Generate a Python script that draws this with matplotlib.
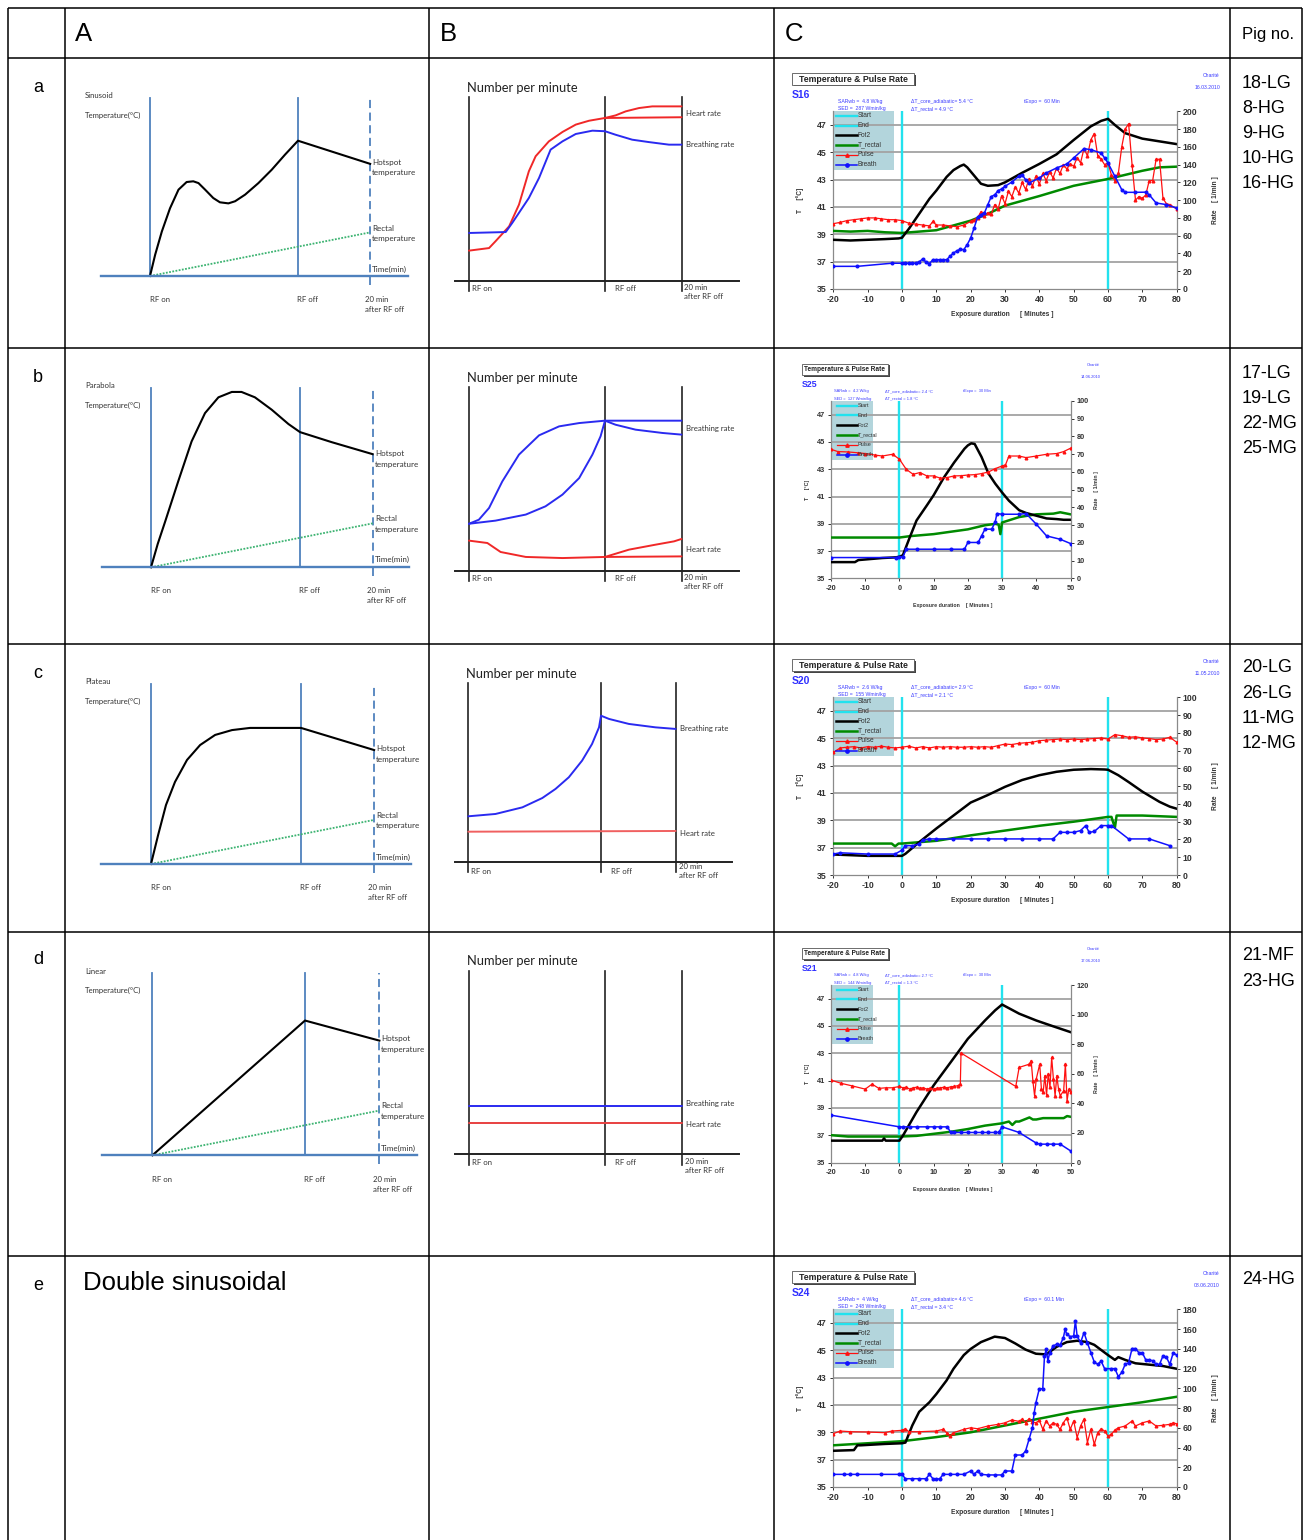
import matplotlib
matplotlib.use("Agg")
import matplotlib.pyplot as plt
from matplotlib.patches import Rectangle

plt.rcParams['font.family'] = ['Liberation Sans', 'DejaVu Sans']
plt.rcParams['axes.unicode_minus'] = False

# ======================= DATA =======================
ROW_LETTERS = ['a', 'b', 'c', 'd', 'e']
COL_HEADERS = ['A', 'B', 'C']
PIGS = [['18-LG', '8-HG', '9-HG', '10-HG', '16-HG'],
        ['17-LG', '19-LG', '22-MG', '25-MG'],
        ['20-LG', '26-LG', '11-MG', '12-MG'],
        ['21-MF', '23-HG'],
        ['24-HG']]
A_NAMES = ['Sinusoid', 'Parabola', 'Plateau', 'Linear']

# Column A schematics: t in min (0 = RF on, 40 = RF off), T in relative units
A_EVENTS = [0, 40, 59.5]
A_SIN_T = [0, 1.4, 3.2, 5.4, 7.7, 9.9, 11.7, 13.1, 14.9, 17.1, 18.9, 21.2, 23.0, 25.7, 29.3, 32.9, 36.5, 40, 59.5]
A_SIN_V = [0, 12, 25, 38, 48.5, 52.8, 53.2, 52.2, 48.5, 43.8, 41.4, 40.8, 42, 45.7, 52.2, 59.7, 68.2, 76, 63]
A_PAR_T = [0, 1.8, 3.8, 7.3, 10.9, 14.5, 18.1, 21.7, 24.3, 27.9, 32.4, 36.9, 40, 48.5, 59.5]
A_PAR_V = [0, 13, 25.5, 47.9, 70.2, 86, 94.8, 97.8, 97.8, 94.8, 87.9, 79.9, 75.4, 69.8, 63.1]
A_PLA_T = [0, 1.9, 4, 6.4, 9.6, 13.1, 17.1, 21.6, 26.4, 40, 59.5]
A_PLA_V = [0, 16.1, 32.8, 45.6, 57.8, 66.1, 71.7, 74.4, 75.6, 75.6, 63.3]
A_LIN_T = [0, 40, 59.5]
A_LIN_V = [0, 73.8, 62.8]
A_RECTAL_T = [0, 59.5]
A_RECTAL_V = [0, 24.5]

# Column B schematics: t in min (0 = RF on, 40 = RF off), rate in relative units
B_EVENTS = [0, 40, 62.5]
B_A_HR1_T = [0, 5.9, 7.8, 11.8, 14.7, 17.6, 19.6, 23.5, 27.5, 31.4, 35.3, 40, 62.5]
B_A_HR1_V = [16.5, 17.9, 21.6, 29.7, 41.5, 59.6, 67.8, 75.9, 81, 85, 87.1, 88.6, 89]
B_A_HR2_T = [40, 43.1, 46.1, 50, 53.9, 62.5]
B_A_HR2_V = [88.6, 90, 92.2, 94, 94.9, 94.9]
B_A_BR_T = [0, 10.8, 12.7, 17.6, 20.6, 24, 27.5, 31.4, 36.3, 40, 43.1, 48, 52.9, 58.8, 62.5]
B_A_BR_V = [26.1, 26.6, 31.5, 45.1, 56, 71.4, 75.9, 79.9, 81.7, 81.4, 79.5, 76.8, 75.5, 74.1, 74.1]

B_B_BR1_T = [0, 2.9, 5.9, 9.8, 14.7, 20.6, 26.5, 32.4, 40, 62.5]
B_B_BR1_V = [25.6, 27.8, 34.2, 48.7, 63.3, 73.8, 78.7, 80.5, 81.8, 81.8]
B_B_BR2_T = [40, 43.1, 49, 56.9, 62.5]
B_B_BR2_V = [81.8, 79.6, 76.9, 75.1, 74.2]
B_B_BR3_T = [0, 7.8, 16.7, 22.5, 27.5, 32.4, 36.3, 38.7, 40]
B_B_BR3_V = [25.6, 27.3, 30.6, 35.1, 41.5, 50.5, 63.3, 73.3, 81.8]
B_B_HR1_T = [0, 5.4, 9.3, 16.7, 27.5, 40, 62.5]
B_B_HR1_V = [16.4, 15.1, 10.2, 7.5, 6.9, 7.5, 7.8]
B_B_HR2_T = [40, 47.1, 54.9, 60.3, 62.5]
B_B_HR2_V = [7.5, 11.5, 14.2, 16, 17.3]

B_C_BR_T = [0, 8.2, 16.3, 22.3, 26.3, 30.3, 34.3, 37.3, 39.4, 40, 42.4, 48.4, 56.4, 62.5]
B_C_BR_V = [25.7, 27, 30.7, 35.9, 41, 47.5, 56.8, 66.1, 75.4, 81.9, 80.1, 77.3, 75.4, 74.5]
B_C_HR_T = [0, 62.5]
B_C_HR_V = [17.1, 17.5]

B_D_BR_T = [0, 62.5]
B_D_BR_V = [26.1, 26.1]
B_D_HR_T = [0, 62.5]
B_D_HR_V = [16.6, 16.6]

# Column C recordings (t in min, Fot2/T_rectal in degC, Pulse/Breath in 1/min)
S16_FOT_T = [-20, -15, -10, -5, -1, 0, 2, 5, 8, 10, 13, 15, 17, 18, 19, 21, 23, 25, 28, 30, 35, 40, 45, 50, 55, 58, 60, 62, 65, 70, 75, 80]
S16_FOT_V = [38.6, 38.55, 38.6, 38.65, 38.7, 38.75, 39.4, 40.5, 41.6, 42.2, 43.2, 43.7, 44.0, 44.1, 43.9, 43.3, 42.7, 42.55, 42.6, 42.8, 43.5, 44.15, 44.85, 45.9, 46.9, 47.3, 47.45, 47.0, 46.4, 46.0, 45.8, 45.6]
S16_REC_T = [-20, -15, -10, -5, 0, 10, 20, 25, 30, 40, 50, 60, 70, 75, 80]
S16_REC_V = [39.25, 39.2, 39.25, 39.15, 39.1, 39.3, 40.0, 40.5, 41.1, 41.8, 42.55, 43.05, 43.65, 43.9, 43.95]
S16_PUL_T = [-20, -18, -16, -14, -12, -10, -8, -6, -4, -2, 0, 2, 4, 6, 8, 9, 10, 12, 14, 16, 18, 20,
             21, 22, 23, 24, 25, 26, 27, 28, 29, 30, 31, 32, 33, 34, 35, 36, 37, 38, 39, 40,
             41, 42, 43, 44, 45, 46, 47, 48, 49, 50, 51, 52, 53, 54, 55, 56, 57, 58, 59, 60,
             61, 62, 63, 64, 65, 66, 67, 68, 69, 70, 71, 72, 73, 74, 75, 76, 77, 78, 80]
S16_PUL_V = [73.5, 75, 77, 78, 79, 80, 80, 79, 78, 78, 77, 74, 73, 72, 71, 76, 72, 72, 71, 70, 72, 76,
             78, 80, 87, 82, 86, 84, 95, 90, 105, 96, 110, 104, 115, 108, 120, 112, 124, 116, 127, 118,
             130, 122, 132, 125, 136, 130, 140, 135, 141, 138, 148, 142, 158, 150, 168, 175, 150, 146, 140, 142,
             128, 122, 130, 160, 180, 186, 140, 100, 104, 102, 106, 122, 122, 146, 146, 102, 96, 95, 90]
S16_BR_T = [-20, -13, -3, 0, 1, 2, 3, 4, 5, 6, 7, 8, 9, 10, 11, 12, 13, 14, 15, 16, 17, 18, 19, 20, 21, 22, 23, 24, 25, 26, 27, 28, 29, 30, 32, 34, 35, 36, 37, 40, 42, 45, 48, 50, 53, 55, 58, 59, 60, 62, 64, 65, 68, 71, 72, 74, 77, 80]
S16_BR_V = [25.5, 25.5, 29, 29, 29, 29, 29, 29, 30.4, 33.8, 30.4, 28.5, 33, 33, 33, 33, 33, 36.8, 40.5, 43, 44.6, 44.3, 50, 57.4, 68.7, 80.7, 83.7, 85.5, 95, 104, 106, 110.7, 112.6, 115.6, 120.4, 126.8, 128.7, 123, 119.3, 125, 130.6, 136.2, 140.7, 147.5, 158, 156.8, 153, 147.5, 141.8, 126.8, 111.8, 108.8, 108.8, 109, 106, 96.8, 95, 91]

S25_FOT_T = [-20, -13, -12, -5, -1, 0, 1, 3, 5, 8, 10, 13, 16, 19, 20, 21, 22, 24, 26, 28, 30, 32, 35, 37, 40, 43, 46, 48, 50]
S25_FOT_V = [36.2, 36.2, 36.35, 36.5, 36.55, 36.6, 36.7, 38.0, 39.25, 40.35, 41.1, 42.4, 43.5, 44.5, 44.75, 44.9, 44.85, 43.9, 42.7, 41.95, 41.3, 40.7, 40.0, 39.8, 39.6, 39.4, 39.35, 39.3, 39.3]
S25_REC_T = [-20, 0, 3, 10, 20, 25, 28, 29, 29.5, 30, 35, 40, 45, 47, 50]
S25_REC_V = [38.0, 38.0, 38.1, 38.25, 38.6, 38.9, 39.0, 38.95, 38.25, 39.1, 39.5, 39.7, 39.75, 39.85, 39.7]
S25_PUL_T = [-20, -18, -15, -12, -10, -7, -5, -2, 0, 2, 4, 6, 8, 10, 12, 14, 16, 18, 20, 22, 24, 26, 28, 30, 31, 32, 35, 37, 40, 43, 46, 48, 50]
S25_PUL_V = [72.8, 71.5, 71.3, 70.8, 70.4, 69.5, 69, 70, 67.2, 61.5, 58.7, 59.7, 57.8, 57.8, 56.5, 56.9, 57.8, 57.9, 58.3, 58.5, 59.1, 60, 61.9, 63.4, 64, 69, 69, 68.1, 69, 70, 70.4, 71.5, 73.4]
S25_BR_T = [-20, -1, 0, 1, 2, 5, 10, 15, 19, 20, 23, 24, 25, 27, 28, 28.5, 30, 35, 37, 40, 43, 47, 50]
S25_BR_V = [11.8, 11.8, 12.2, 12.2, 16.5, 16.5, 16.5, 16.5, 16.5, 20.3, 20.3, 24, 27.8, 27.8, 32, 36.6, 36.2, 36.2, 36.6, 30.6, 24, 22.1, 19.7]

S20_FOT_T = [-20, -10, 0, 1, 5, 10, 15, 20, 25, 30, 35, 40, 45, 50, 55, 59, 60, 63, 66, 70, 75, 78, 80]
S20_FOT_V = [36.5, 36.4, 36.4, 36.55, 37.4, 38.4, 39.35, 40.3, 40.85, 41.45, 41.95, 42.3, 42.55, 42.7, 42.75, 42.72, 42.7, 42.3, 41.8, 41.1, 40.35, 40.0, 39.85]
S20_REC_T = [-20, -3, -2, -1, 0, 5, 10, 15, 20, 30, 40, 50, 60, 61, 62, 62.5, 70, 80]
S20_REC_V = [37.3, 37.3, 37.1, 37.3, 37.3, 37.4, 37.5, 37.7, 37.9, 38.25, 38.6, 38.9, 39.25, 39.25, 38.45, 39.35, 39.35, 39.25]
S20_PUL_T = [-20, -18, -16, -14, -12, -10, -8, -6, -4, -2, 0, 2, 4, 6, 8, 10, 12, 14, 16, 18, 20, 22, 24, 26, 28,
             30, 32, 34, 36, 38, 40, 42, 44, 46, 48, 50, 52, 54, 56, 58, 60, 62, 64, 66, 68, 70, 72, 74, 76, 78, 80]
S20_PUL_V = [69, 71.5, 71.9, 72.2, 71.5, 72.2, 71.9, 72.5, 71.9, 71.5, 71.9, 72.5, 71.5, 72.2, 71.5, 72.2, 71.9, 72.2, 71.9, 71.9, 72.2, 71.9, 72.2, 71.9, 72.8,
             73.7, 73.4, 74.1, 74.4, 74.7, 75.6, 75.9, 76.2, 76.5, 76.2, 76.5, 76.2, 76.5, 76.8, 77.1, 76.5, 79, 78.4, 77.5, 77.8, 77.1, 76.8, 76.2, 76.5, 77.5, 74.7]
S20_BR_T = [-20, -18, -10, -2, 0, 1, 3, 5, 6, 8, 10, 15, 20, 25, 30, 35, 40, 44, 46, 48, 50, 52, 53.5, 54.5, 56, 58, 60, 61, 66, 72, 78]
S20_BR_V = [11.8, 12.5, 11.8, 11.8, 14, 16.5, 16.5, 17.4, 19.7, 20.3, 20.3, 20.3, 20.3, 20.3, 20.3, 20.3, 20.3, 20.3, 24, 24, 24, 25, 27.8, 24, 24.5, 27.8, 27.8, 27.8, 20.3, 20.3, 16.5]

S21_FOT_T = [-20, -5, -4.5, -4, 0, 1, 5, 10, 15, 20, 25, 28, 30, 35, 40, 45, 50]
S21_FOT_V = [36.6, 36.6, 36.76, 36.6, 36.6, 36.96, 38.7, 40.65, 42.35, 44.06, 45.4, 46.15, 46.57, 45.9, 45.4, 44.97, 44.55]
S21_REC_T = [-20, -15, 0, 5, 10, 15, 20, 25, 30, 32, 33, 34, 35, 37, 38, 39, 40, 42, 45, 48, 49, 50]
S21_REC_V = [37, 36.9, 36.9, 36.95, 37.1, 37.25, 37.45, 37.7, 37.87, 38.0, 37.75, 38.0, 38.0, 38.2, 38.3, 38.15, 38.15, 38.25, 38.25, 38.25, 38.4, 38.35]
S21_PUL_T = [-20, -17, -14, -10, -8, -6, -4, -2, 0, 1, 2, 3, 4, 5, 6, 7, 8, 9, 10, 11, 12, 13, 14, 15, 16, 17, 17.8, 18,
             34, 35, 38, 38.5, 39, 39.5, 40, 41, 41.5, 42, 42.5, 43, 43.5, 44, 44.5, 45, 45.5, 46, 46.5, 47, 48, 48.5, 49, 49.5, 50]
S21_PUL_V = [55.7, 53.5, 51.9, 49.6, 53, 50.1, 50.5, 50.5, 51.4, 50.5, 50.9, 49.6, 50.5, 50.9, 50.2, 50.5, 49.6, 50.2, 49.6, 50.2, 50.5, 50.9, 50.5, 51.2, 51.4, 51.9, 53, 74,
             51.4, 64.3, 66.5, 68.8, 55.3, 45.1, 56.5, 66.5, 49.6, 47.4, 58.7, 45.6, 60, 51, 71, 56.5, 45.1, 58.7, 49.6, 45.1, 48.5, 66.5, 41.7, 49.6, 47.4]
S21_BR_T = [-20, 0, 1, 3, 5, 8, 10, 12, 14, 15, 16, 18, 20, 22, 24, 26, 28, 29, 30, 35, 40, 41, 43, 45, 47, 50]
S21_BR_V = [32, 24.1, 24.1, 24.1, 24.1, 24.1, 24.1, 24.1, 24.1, 20.3, 20.3, 20.3, 20.3, 20.3, 20.3, 20.3, 20.3, 20.3, 24.1, 20.3, 13.1, 12.4, 12.4, 12.4, 12.4, 7.9]

S24_FOT_T = [-20, -14, -13, -12, -5, 0, 1, 3, 5, 8, 10, 13, 15, 18, 20, 23, 27, 30, 33, 36, 39, 42, 45, 48, 51, 54, 56, 60, 62, 63, 65, 68, 72, 76, 80]
S24_FOT_V = [37.65, 37.7, 38.05, 38.05, 38.15, 38.2, 38.25, 39.5, 40.5, 41.2, 41.8, 42.8, 43.65, 44.65, 45.1, 45.6, 46.0, 45.9, 45.5, 45.05, 44.75, 44.7, 45.25, 45.6, 45.7, 45.6, 45.4, 44.65, 44.3, 44.5, 44.3, 44.05, 43.95, 43.85, 43.65]
S24_REC_T = [-20, -10, 0, 10, 20, 30, 40, 50, 60, 70, 80]
S24_REC_V = [38.05, 38.2, 38.35, 38.65, 39.0, 39.5, 40.0, 40.5, 40.85, 41.2, 41.6]
S24_PUL_T = [-20, -18, -15, -10, -5, -3, 0, 1, 2, 5, 10, 12, 13, 14, 15, 18, 20, 22, 25, 28, 30, 32, 34, 35, 36,
             37, 38, 39, 40, 41, 42, 43, 44, 45, 46, 47, 48, 49, 50, 51, 52, 53, 54, 55, 56, 57, 58, 59, 60, 61, 62, 63,
             65, 67, 68, 70, 72, 74, 76, 78, 79, 80]
S24_PUL_V = [54, 56.7, 56, 55.7, 55, 56.7, 57.4, 59, 56, 56, 56.7, 58.4, 55, 51.7, 55, 58.4, 60, 59, 61.8, 63.5, 65, 67.9, 66.5, 68.6, 65,
             69.2, 66.2, 65, 67.5, 58.4, 67, 61.8, 65, 63.5, 58.4, 65, 70.2, 58.4, 67, 50, 61.8, 68.6, 45, 58.4, 43.2, 55, 59, 56.7, 51.7, 53.4, 57.7, 60,
             61.8, 66.9, 61.8, 65, 66.9, 61.8, 62.5, 63.5, 65, 64]
S24_BR_T = [-20, -17, -15, -13, -6, -1, 0, 1, 3, 5, 7, 8, 9, 10, 11, 12, 14, 16, 18, 20, 21, 22, 23, 25, 27, 29, 30, 32, 33, 35, 36,
            37, 38, 38.5, 39, 40, 41, 41.5, 42, 42.5, 43, 44, 45, 46, 47, 47.5, 48, 49, 50, 50.5, 51, 52, 53, 54, 55, 56,
            57, 58, 59, 61, 62, 63, 64, 65, 66, 67, 68, 69, 70, 71, 72, 73, 74, 75, 76, 77, 78, 79, 80]
S24_BR_V = [12.8, 12.8, 12.8, 12.8, 12.8, 12.8, 12.8, 8.4, 8.4, 8.4, 8.4, 12.8, 8.4, 7.8, 8.4, 12.8, 12.8, 12.8, 12.8, 16.2, 12.8, 16.2, 12.8, 12.2, 12.2, 12.2, 16.2, 16.2, 32.4, 32.4, 36.5,
            48.3, 60.1, 75.3, 85.4, 99.6, 99.6, 132.7, 139.5, 127.7, 136.1, 142.9, 144.5, 143.5, 151.3, 159.7, 154.7, 152.3, 153, 168.2, 153, 146.2, 156.4, 146, 136.1, 126.6,
            124.3, 127.5, 119.9, 119.9, 119.9, 111.8, 116, 124.3, 126, 140.2, 140.2, 136, 136, 128.7, 128.5, 128, 124.3, 124.3, 132.7, 131.5, 124.3, 136.1, 133.4]

C_META = [
    dict(sid='S16', sar='4.8 W/kg', sed='287 Wmin/kg', dcore='5.4', drec='4.9', texpo='60 Min', date='16.03.2010', xmax=80, rmax=200, rstep=20, end=60),
    dict(sid='S25', sar='4.2 W/kg', sed='127 Wmin/kg', dcore='2.4', drec='1.8', texpo='30 Min', date='14.06.2010', xmax=50, rmax=100, rstep=10, end=30),
    dict(sid='S20', sar='2.6 W/kg', sed='155 Wmin/kg', dcore='2.9', drec='2.1', texpo='60 Min', date='11.05.2010', xmax=80, rmax=100, rstep=10, end=60),
    dict(sid='S21', sar='4.8 W/kg', sed='144 Wmin/kg', dcore='2.7', drec='1.3', texpo='30 Min', date='17.06.2010', xmax=50, rmax=120, rstep=20, end=30),
    dict(sid='S24', sar='4 W/kg', sed='248 Wmin/kg', dcore='4.6', drec='3.4', texpo='60.1 Min', date='08.06.2010', xmax=80, rmax=180, rstep=20, end=60),
]
C_SERIES = [
    (S16_FOT_T, S16_FOT_V, S16_REC_T, S16_REC_V, S16_PUL_T, S16_PUL_V, S16_BR_T, S16_BR_V),
    (S25_FOT_T, S25_FOT_V, S25_REC_T, S25_REC_V, S25_PUL_T, S25_PUL_V, S25_BR_T, S25_BR_V),
    (S20_FOT_T, S20_FOT_V, S20_REC_T, S20_REC_V, S20_PUL_T, S20_PUL_V, S20_BR_T, S20_BR_V),
    (S21_FOT_T, S21_FOT_V, S21_REC_T, S21_REC_V, S21_PUL_T, S21_PUL_V, S21_BR_T, S21_BR_V),
    (S24_FOT_T, S24_FOT_V, S24_REC_T, S24_REC_V, S24_PUL_T, S24_PUL_V, S24_BR_T, S24_BR_V),
]
LEGEND_NAMES = ['Start', 'End', 'Fot2', 'T_rectal', 'Pulse', 'Breath']

# ======================= LAYOUT =======================
W, H = 1309, 1540
COLX = [8, 65, 429, 774, 1230, 1302]
ROWY = [8, 58, 348, 644, 932, 1256, 1540]

fig = plt.figure(figsize=(W / 100, H / 100), dpi=100)
fig.patch.set_facecolor('white')
ov = fig.add_axes([0, 0, 1, 1], zorder=20)
ov.set_xlim(0, W)
ov.set_ylim(H, 0)
ov.axis('off')
ov.patch.set_alpha(0)

SCH = ['Lato', 'DejaVu Sans']


def txt(x, y, s, size, clip=None, **kw):
    t = ov.text(x, y, s, fontsize=size, **kw)
    if clip is not None:
        x0, x1, y0, y1 = clip
        rect = Rectangle((x0, y0), x1 - x0, y1 - y0, transform=ov.transData, facecolor='none', edgecolor='none')
        t.set_clip_path(rect)
    return t


def anchored_axes(cell, xa, ya, zorder=5):
    cx0, cx1, cy0, cy1 = cell
    ax = fig.add_axes([cx0 / W, 1 - cy1 / H, (cx1 - cx0) / W, (cy1 - cy0) / H], zorder=zorder)
    (p0, v0), (p1, v1) = xa
    s = (v1 - v0) / (p1 - p0)
    ax.set_xlim(v0 + (cx0 - p0) * s, v0 + (cx1 - p0) * s)
    (q0, w0), (q1, w1) = ya
    r = (w1 - w0) / (q1 - q0)
    ax.set_ylim(w0 + (cy1 - q0) * r, w0 + (cy0 - q0) * r)
    ax.axis('off')
    ax.patch.set_alpha(0)
    return ax


# ---- table grid ----
for x in COLX:
    ov.plot([x, x], [ROWY[0], ROWY[-1]], color='black', lw=1.1, solid_capstyle='butt')
for y in ROWY[:-1]:
    ov.plot([COLX[0], COLX[-1]], [y, y], color='black', lw=1.1, solid_capstyle='butt')

for hx, h in zip([75, 440, 785], COL_HEADERS):
    txt(hx, 34, h, 18.5, ha='left', va='center')
txt(1242, 34, 'Pig no.', 12, ha='left', va='center')
ROW_LET_Y = [87, 377, 673, 960, 1285]
for ly, l in zip(ROW_LET_Y, ROW_LETTERS):
    txt(38, ly, l, 13, ha='center', va='center')
PIG_Y0 = [83, 373, 668, 956, 1280]
for y0, pl in zip(PIG_Y0, PIGS):
    for k, p in enumerate(pl):
        txt(1242, y0 + 25.2 * k, p, 13, ha='left', va='center')
txt(83, 1283, 'Double sinusoidal', 18.5, ha='left', va='center')

# ---- Column A schematics ----
A_BLUE = '#4f81bd'
A_ROWS = [
    dict(cell=(65, 429, 58, 348), rfon=150, rfoff=298, base=276, top=98, hx=(101, 408), t=A_SIN_T, v=A_SIN_V,
         ty=96, hot=(372, 162.3), rec=(372, 228.3), time=269, lab=299, offx=297, minx=365),
    dict(cell=(65, 429, 348, 644), rfon=151, rfoff=300, base=567.3, top=388, hx=(101.7, 409), t=A_PAR_T, v=A_PAR_V,
         ty=386, hot=(375, 453.3), rec=(375, 518.7), time=559.7, lab=590.3, offx=299, minx=366.7),
    dict(cell=(65, 429, 644, 932), rfon=151, rfoff=301, base=864, top=684, hx=(101, 411), t=A_PLA_T, v=A_PLA_V,
         ty=682, hot=(376, 749), rec=(376, 815), time=857, lab=887, offx=300, minx=368),
    dict(cell=(65, 429, 932, 1256), rfon=152.4, rfoff=305, base=1155.3, top=972.7, hx=(102, 417), t=A_LIN_T, v=A_LIN_V,
         ty=971, hot=(381, 1039), rec=(381, 1106), time=1148.7, lab=1179.3, offx=304, minx=373),
]
for name, r in zip(A_NAMES, A_ROWS):
    ax = anchored_axes(r['cell'], ((r['rfon'], 0), (r['rfoff'], 40)), ((r['base'], 0), (r['top'], 100)))
    vs = 100.0 / (r['base'] - r['top'])
    ax.plot([A_EVENTS[0]] * 2, [0, 100], color=A_BLUE, lw=1.3)
    ax.plot([A_EVENTS[1]] * 2, [0, 100], color=A_BLUE, lw=1.3)
    ax.plot([A_EVENTS[2]] * 2, [-9 * vs, 100], color=A_BLUE, lw=1.3, ls=(0, (4.5, 2.5)))
    ax.plot(A_RECTAL_T, A_RECTAL_V, color='#3cb371', lw=1.3, ls=(0, (1, 0.8)))
    ax.plot(r['t'], r['v'], color='black', lw=1.5)
    ov.plot(r['hx'], [r['base'], r['base']], color=A_BLUE, lw=1.7)
    clip = r['cell']
    txt(85, r['ty'], name, 5.6, family=SCH, va='center', color='#333')
    txt(85, r['ty'] + 19.5, 'Temperature(°C)', 5.6, family=SCH, va='center', color='#333')
    txt(r['hot'][0], r['hot'][1], 'Hotspot', 5.8, family=SCH, va='center', color='#333')
    txt(r['hot'][0], r['hot'][1] + 10.7, 'temperature', 5.8, family=SCH, va='center', color='#333', clip=clip)
    txt(r['rec'][0], r['rec'][1], 'Rectal', 5.8, family=SCH, va='center', color='#333')
    txt(r['rec'][0], r['rec'][1] + 10.7, 'temperature', 5.8, family=SCH, va='center', color='#333', clip=clip)
    txt(r['rec'][0], r['time'], 'Time(min)', 5.8, family=SCH, va='center', color='#333')
    txt(r['rfon'], r['lab'], 'RF on', 5.6, family=SCH, va='center', color='#333')
    txt(r['offx'], r['lab'], 'RF off', 5.6, family=SCH, va='center', color='#333')
    txt(r['minx'], r['lab'], '20 min', 5.6, family=SCH, va='center', color='#333')
    txt(r['minx'], r['lab'] + 10.3, 'after RF off', 5.6, family=SCH, va='center', color='#333')

# ---- Column B schematics ----
B_RED = '#f02828'
B_BLUE = '#2a2af0'
B_ROWS = [
    dict(cell=(429, 774, 58, 348), rfon=469, rfoff=605, base=281, top=97, hx=(455, 739), vb=291,
         curves=[(B_A_HR1_T, B_A_HR1_V, B_RED), (B_A_HR2_T, B_A_HR2_V, B_RED), (B_A_BR_T, B_A_BR_V, B_BLUE)],
         title=(467, 88), labx=686, labs=[('Heart rate', 113), ('Breathing rate', 145)],
         lab=(288.7, 287.3)),
    dict(cell=(429, 774, 348, 644), rfon=469, rfoff=605, base=570.7, top=387.3, hx=(455, 739), vb=581,
         curves=[(B_B_BR1_T, B_B_BR1_V, B_BLUE), (B_B_BR2_T, B_B_BR2_V, B_BLUE), (B_B_BR3_T, B_B_BR3_V, B_BLUE),
                 (B_B_HR1_T, B_B_HR1_V, B_RED), (B_B_HR2_T, B_B_HR2_V, B_RED)],
         title=(467, 378), labx=686, labs=[('Breathing rate', 428), ('Heart rate', 549.7)],
         lab=(578.5, 577)),
    dict(cell=(429, 774, 644, 932), rfon=468.3, rfoff=601, base=862.3, top=683.3, hx=(455, 731.7), vb=872,
         curves=[(B_C_BR_T, B_C_BR_V, B_BLUE), (B_C_HR_T, B_C_HR_V, '#f06060')],
         title=(466.3, 674), labx=679.7, labs=[('Breathing rate', 729), ('Heart rate', 833)],
         lab=(871.3, 866.3)),
    dict(cell=(429, 774, 932, 1256), rfon=468.5, rfoff=605.3, base=1153.7, top=971.3, hx=(455.4, 739), vb=1165,
         curves=[(B_D_BR_T, B_D_BR_V, B_BLUE), (B_D_HR_T, B_D_HR_V, '#e84040')],
         title=(467, 961.3), labx=685.5, labs=[('Breathing rate', 1103.7), ('Heart rate', 1124.7)],
         lab=(1162.7, 1161.3)),
]
for r in B_ROWS:
    ax = anchored_axes(r['cell'], ((r['rfon'], 0), (r['rfoff'], 40)), ((r['base'], 0), (r['top'], 100)))
    vs = 100.0 / (r['base'] - r['top'])
    vb = -(r['vb'] - r['base']) * vs
    for e in B_EVENTS:
        ax.plot([e, e], [vb, 100], color='#222222', lw=1.2)
    for ct, cv, cc in r['curves']:
        ax.plot(ct, cv, color=cc, lw=1.4, solid_capstyle='round')
    ov.plot(r['hx'], [r['base'], r['base']], color='#222222', lw=1.4)
    txt(r['title'][0], r['title'][1], 'Number per minute', 9.3, family=SCH, va='center', color='#222')
    for s, y in r['labs']:
        txt(r['labx'], y, s, 5.6, family=SCH, va='center', color='#333')
    ex = [r['rfon'] + (r['rfoff'] - r['rfon']) / 40.0 * e for e in B_EVENTS]
    txt(ex[0] + 3, r['lab'][0], 'RF on', 5.6, family=SCH, va='center', color='#333')
    txt(ex[1] + 10, r['lab'][0], 'RF off', 5.6, family=SCH, va='center', color='#333')
    txt(ex[2] + 3, r['lab'][1], '20 min', 5.6, family=SCH, va='center', color='#333')
    txt(ex[2] + 3, r['lab'][1] + 9.2, 'after RF off', 5.6, family=SCH, va='center', color='#333')

# ---- Column C recordings ----
WIDE = dict(L=833.3, R=1176.7, T=53.3, B=231, title=(792, 914, 15, 26.7), s=(792, 36.5), info_y=(43.3, 50.7),
            info_x=(838, 910.7, 1024), date_x=1220, ch_y=17.3, dt_y=29.3, leg=(834, 894, 53.3, 111.7),
            leg_l=(1.7, 23.3, 24), tlab_x=800.5, rlab_x=1215.7, xl=(950.7, 1020.5), xl_y=256.7,
            fs=6.3, tfs=6.3, sfs=7.5, ifs=3.7, lfs=4.8, xfs=4.8)
NARROW = dict(L=831, R=1070.5, T=53, B=230.5, title=(802, 888, 15.5, 27), s=(802, 36.5), info_y=(43, 50.7),
              info_x=(834, 885, 962.7), date_x=1100.5, ch_y=17.3, dt_y=29.3, leg=(831, 873, 53, 111.5),
              leg_l=(6, 26, 27), tlab_x=807, rlab_x=1096.7, xl=(913, 966), xl_y=257,
              fs=5.3, tfs=4.7, sfs=6.3, ifs=2.9, lfs=4.0, xfs=3.8)
C_TOPS = [58, 348, 644, 932, 1256]
C_LAYS = [WIDE, NARROW, WIDE, NARROW, WIDE]
CYAN = '#22e2ee'
GREEN = '#008a00'
IBLUE = '#3c3cff'

for top, lay, meta, ser in zip(C_TOPS, C_LAYS, C_META, C_SERIES):
    ft, fv, rt, rv, pt, pv, bt, bv = ser
    L, R = lay['L'], lay['R']
    T, B = top + lay['T'], top + lay['B']
    ax = fig.add_axes([L / W, 1 - B / H, (R - L) / W, (B - T) / H], zorder=6)
    ax.patch.set_alpha(0)
    ax.set_xlim(-20, meta['xmax'])
    ax.set_ylim(35, 48)
    ax2 = ax.twinx()
    ax2.set_zorder(7)
    ax2.patch.set_alpha(0)
    ax2.set_ylim(0, meta['rmax'])
    for g in [37, 39, 41, 43, 45, 47]:
        ax.axhline(g, color='#a3a3a3', lw=1.3, zorder=1)
    lx0, lx1 = lay['leg'][0], lay['leg'][1]
    ly0, ly1 = top + lay['leg'][2], top + lay['leg'][3]
    ax.add_patch(Rectangle((lx0, ly0), lx1 - lx0, ly1 - ly0, transform=ov.transData,
                           facecolor='#b3d5dc', edgecolor='none', zorder=0.5, clip_on=False))
    ax.axvline(0, color=CYAN, lw=1.7, zorder=2)
    ax.axvline(meta['end'], color=CYAN, lw=1.7, zorder=2)
    ax.plot(rt, rv, color=GREEN, lw=1.8, zorder=3)
    ax.plot(ft, fv, color='black', lw=1.8, zorder=3)
    ax2.plot(pt, pv, color='#ff1010', lw=0.9, marker='^', ms=1.9, zorder=3)
    ax2.plot(bt, bv, color='#1010ff', lw=1.1, marker='o', ms=1.9, zorder=3)

    # legend entries
    lcol = [CYAN, CYAN, 'black', GREEN, '#ff1010', '#1010ff']
    lmk = [None, None, None, None, '^', 'o']
    llw = [1.7, 1.7, 1.8, 1.8, 0.9, 1.1]
    a0, a1, at = lay['leg_l']
    for k, (nm, c, m, lw) in enumerate(zip(LEGEND_NAMES, lcol, lmk, llw)):
        yy = ly0 + 4.5 + 9.8 * k
        ax2.plot([lx0 + a0, lx0 + a1], [yy, yy], color=c, lw=lw, transform=ov.transData, clip_on=False, zorder=5)
        if m:
            ax2.plot([(2 * lx0 + a0 + a1) / 2], [yy], color=c, marker=m, ms=2.4, transform=ov.transData,
                     clip_on=False, zorder=5)
        ax2.text(lx0 + at, yy, nm, fontsize=lay['lfs'], transform=ov.transData, va='center', ha='left',
                 color='#333', zorder=6)

    ax.set_xticks(list(range(-20, meta['xmax'] + 1, 10)))
    ax.set_yticks([35, 37, 39, 41, 43, 45, 47])
    ax2.set_yticks(list(range(0, meta['rmax'] + 1, meta['rstep'])))
    for a in (ax, ax2):
        a.tick_params(axis='both', labelsize=lay['fs'], colors='#333333', length=2.5, width=0.7, pad=2,
                      direction='out')
        for s in a.spines.values():
            s.set_visible(False)
    ax.spines['left'].set_visible(True)
    ax.spines['bottom'].set_visible(True)
    ax2.spines['right'].set_visible(True)
    for s in (ax.spines['left'], ax.spines['bottom'], ax2.spines['right']):
        s.set_color('#8a8a8a')
        s.set_linewidth(0.9)
    for lbl in ax.get_xticklabels() + ax.get_yticklabels() + ax2.get_yticklabels():
        lbl.set_fontweight('bold')

    # title box with shadow
    bx0, bx1, by0, by1 = lay['title']
    ov.add_patch(Rectangle((bx0 + 1.8, top + by0 + 1.8), bx1 - bx0, by1 - by0, facecolor='#444444',
                           edgecolor='none', zorder=1))
    ov.add_patch(Rectangle((bx0, top + by0), bx1 - bx0, by1 - by0, facecolor='white', edgecolor='#555555',
                           lw=0.6, zorder=2))
    txt((bx0 + bx1) / 2, top + (by0 + by1) / 2 + 0.3, 'Temperature & Pulse Rate', lay['tfs'], weight='bold',
        ha='center', va='center', color='#222', zorder=3)
    txt(lay['s'][0], top + lay['s'][1], meta['sid'], lay['sfs'], weight='bold', color='#3030ff', va='center')
    i0, i1, i2 = lay['info_x']
    y0, y1 = top + lay['info_y'][0], top + lay['info_y'][1]
    txt(i0, y0, 'SARwb =  ' + meta['sar'], lay['ifs'], color=IBLUE, va='center')
    txt(i0, y1, 'SED =  ' + meta['sed'], lay['ifs'], color=IBLUE, va='center')
    txt(i1, y0, 'ΔT_core_adiabatic= ' + meta['dcore'] + ' °C', lay['ifs'], color=IBLUE, va='center')
    txt(i1, y1, 'ΔT_rectal = ' + meta['drec'] + ' °C', lay['ifs'], color=IBLUE, va='center')
    txt(i2, y0, 'tExpo =  ' + meta['texpo'], lay['ifs'], color=IBLUE, va='center')
    txt(lay['date_x'] - 1, top + lay['ch_y'], 'Charité', lay['ifs'], color=IBLUE, va='center', ha='right')
    txt(lay['date_x'], top + lay['dt_y'], meta['date'], lay['ifs'], color=IBLUE, va='center', ha='right')
    mid = (T + B) / 2
    txt(lay['tlab_x'], mid, 'T     [°C]', lay['xfs'], weight='bold', rotation=90, ha='center', va='center',
        color='#333')
    txt(lay['rlab_x'], mid, 'Rate    [ 1/min ]', lay['xfs'], weight='bold', rotation=90, ha='center',
        va='center', color='#333')
    txt(lay['xl'][0], top + lay['xl_y'], 'Exposure duration', lay['xfs'], weight='bold', va='center',
        color='#333')
    txt(lay['xl'][1], top + lay['xl_y'], '[ Minutes ]', lay['xfs'], weight='bold', va='center', color='#333')

fig.savefig('out.png', dpi=100, facecolor='white')
